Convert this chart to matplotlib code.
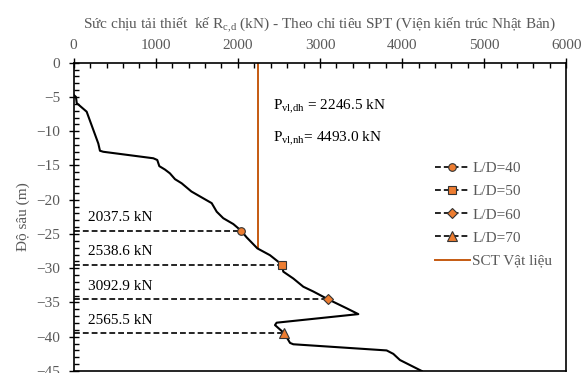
import matplotlib
matplotlib.use("Agg")
import matplotlib.pyplot as plt
from matplotlib.ticker import MultipleLocator

plt.rcParams['font.family'] = ['Liberation Serif', 'DejaVu Serif']
plt.rcParams['mathtext.fontset'] = 'custom'
plt.rcParams['mathtext.rm'] = 'Liberation Serif'
plt.rcParams['mathtext.it'] = 'Liberation Serif:italic'

# Sức chịu tải theo độ sâu (kN, m)
capacity = [0, 28, 37, 158, 300, 320, 360, 970, 1018, 1043, 1112, 1172, 1234,
            1315, 1434, 1579, 1681, 1742, 1822, 1944, 2037.5, 2107, 2237, 2391,
            2538.6, 2553, 2675, 2797, 2919, 3092.9, 3325, 3467, 2472, 2452,
            2565.5, 2635, 2675, 3812, 3893, 3974, 4239]
depth = [-4.7, -5.0, -5.9, -7.15, -11.8, -12.85, -13.0, -13.95, -14.2, -15.1,
         -15.6, -16.15, -17.0, -17.6, -18.8, -19.8, -20.5, -21.75, -22.7, -23.55,
         -24.5, -25.5, -27.1, -28.1, -29.5, -30.5, -31.5, -32.7, -33.4, -34.5,
         -35.85, -36.7, -37.95, -38.3, -39.5, -40.9, -41.1, -42.0, -42.5, -43.4,
         -45.0]

# Các trường hợp L/D
ld_labels = ["L/D=40", "L/D=50", "L/D=60", "L/D=70"]
ld_depth = [-24.5, -29.5, -34.5, -39.5]
ld_capacity = [2037.5, 2538.6, 3092.9, 2565.5]
ld_markers = ["o", "s", "D", "^"]
ld_msize = [5.5, 5.5, 5.5, 6.5]

# SCT vật liệu
p_vl_dh = 2246.5
p_vl_nh = 4493.0
mat_depth = [0, -27.1]

orange = "#ED7D31"
dark_orange = "#C55A11"
grey = "#595959"

fig = plt.figure(figsize=(5.82, 3.73), dpi=100)
ax = fig.add_axes([0.1266, 0.0054, 0.8464, 0.8265])

ax.plot(capacity, depth, color="black", lw=1.5, zorder=3)

for lab, d, c, m, ms in zip(ld_labels, ld_depth, ld_capacity, ld_markers, ld_msize):
    ax.plot([0, c], [d, d], ls="--", color="black", lw=1.2, dashes=(3.5, 1.8),
            marker=m, markevery=[1], ms=ms, mfc=orange, mec="#333333", mew=0.8,
            label=lab, zorder=4)
    ax.text(170, d + 1.9, f"{c:.1f} kN", fontsize=11, va="center", ha="left")

ax.plot([p_vl_dh, p_vl_dh], mat_depth, color=dark_orange, lw=1.4,
        label="SCT Vật liệu", zorder=2)

ax.text(2430, -6.5, r"P$_\mathrm{vl{,}dh}$ = " + f"{p_vl_dh:.1f} kN", fontsize=11, va="center")
ax.text(2430, -11.2, r"P$_\mathrm{vl{,}nh}$= " + f"{p_vl_nh:.1f} kN", fontsize=11, va="center")

ax.set_xlim(0, 6000)
ax.set_ylim(-45, 0)
ax.xaxis.set_major_locator(MultipleLocator(1000))
ax.xaxis.set_minor_locator(MultipleLocator(200))
ax.yaxis.set_major_locator(MultipleLocator(5))
ax.yaxis.set_minor_locator(MultipleLocator(1))

ax.xaxis.tick_top()
ax.xaxis.set_label_position("top")
ax.tick_params(axis="x", which="major", direction="inout", length=7, width=1,
               labelsize=11, labelcolor=grey, pad=4, top=True, bottom=False)
ax.tick_params(axis="x", which="minor", direction="in", length=3.5, width=1,
               top=True, bottom=False)
ax.tick_params(axis="y", which="major", direction="inout", length=7, width=1,
               labelsize=11, labelcolor=grey, pad=6)
ax.tick_params(axis="y", which="minor", direction="in", length=3.5, width=1)
for s in ax.spines.values():
    s.set_linewidth(1.2)

ax.set_xlabel("Sức chịu tải thiết  kế R$_\\mathrm{c{,}d}$ (kN) - Theo chỉ tiêu SPT (Viện kiến trúc Nhật Bản)",
              fontsize=11, color=grey, labelpad=8)
ax.set_ylabel("Độ sâu (m)", fontsize=11, color=grey, labelpad=5)

leg = ax.legend(loc="center left", bbox_to_anchor=(0.733, 0.507), frameon=False,
                fontsize=11, labelcolor=grey, handlelength=2.3, handletextpad=0.15,
                labelspacing=0.62, borderpad=0, borderaxespad=0, numpoints=1)

fig.savefig("out.png", dpi=100)
